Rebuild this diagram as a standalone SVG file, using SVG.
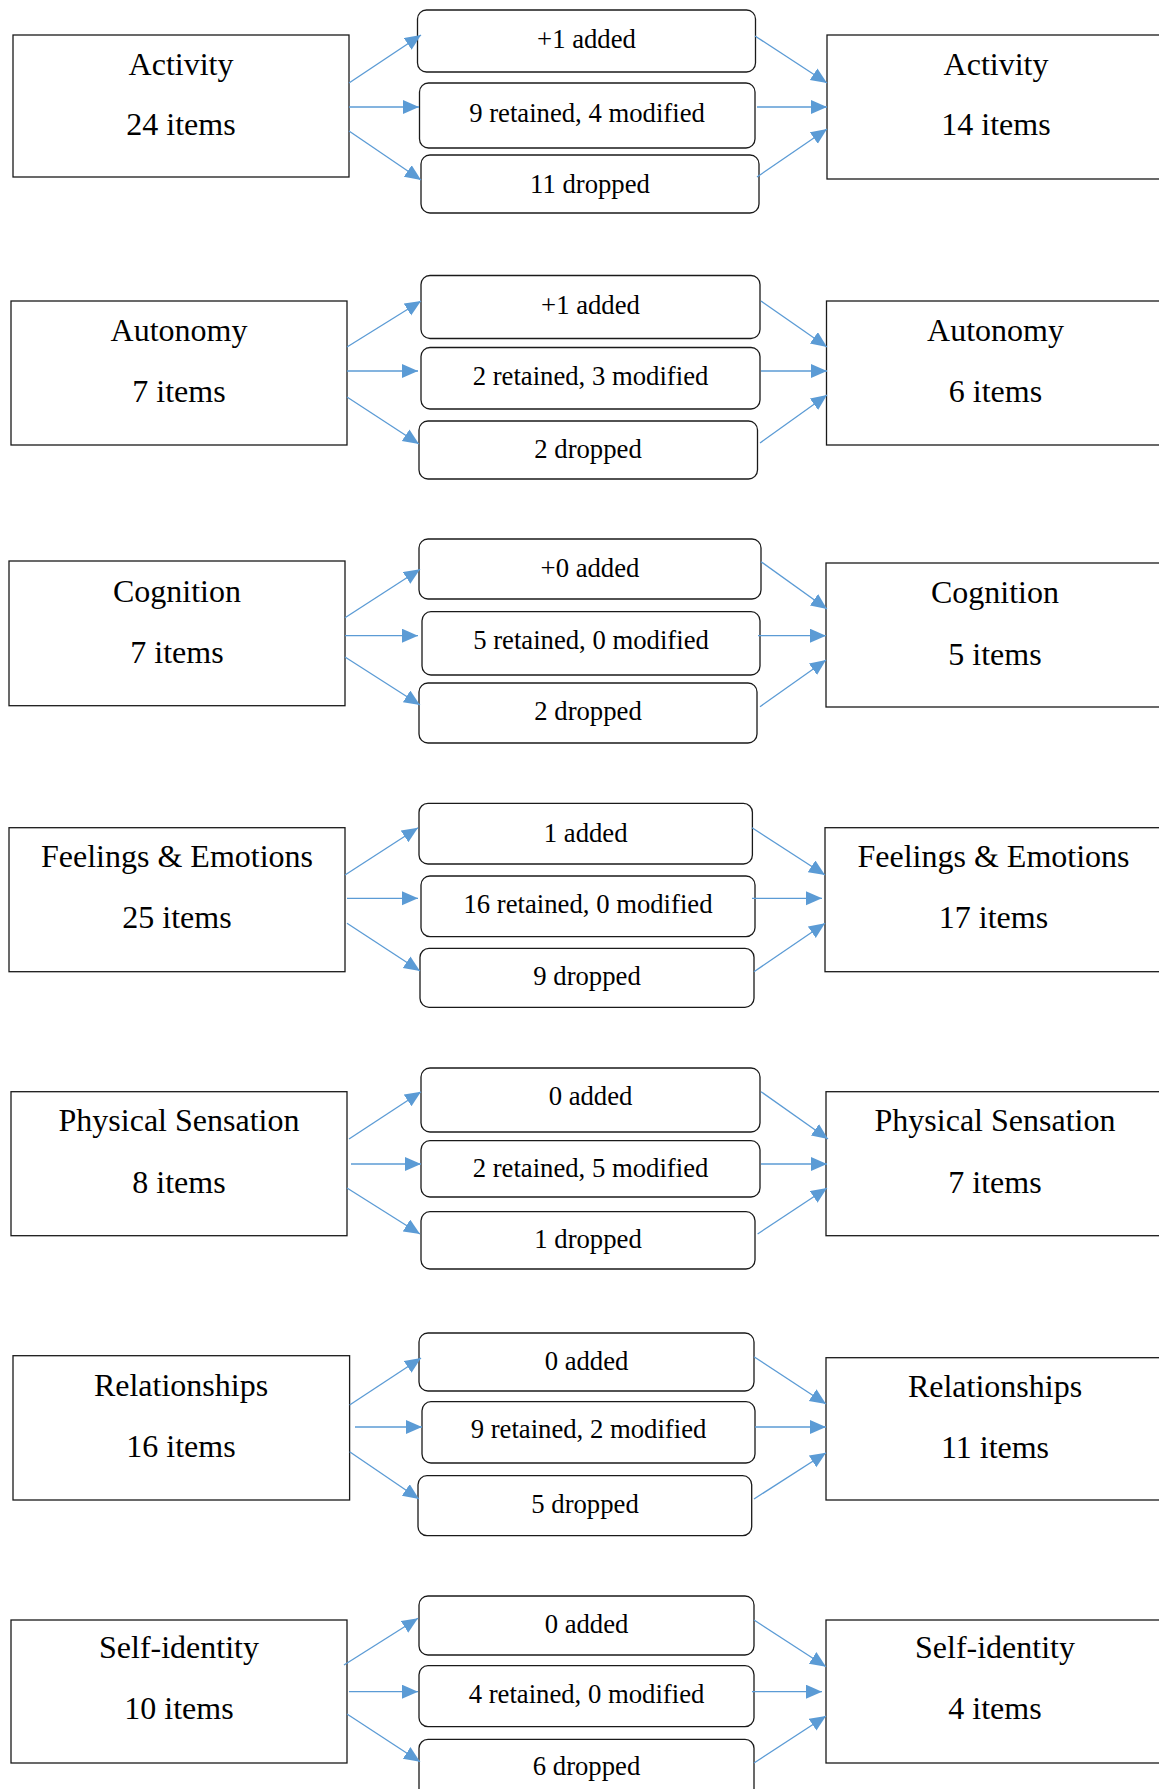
<svg xmlns="http://www.w3.org/2000/svg" width="1159" height="1789" viewBox="0 0 1159 1789">
<style>
  .box { fill: #ffffff; stroke: #1a1a1a; stroke-width: 1.3; }
  .rbox { fill: #ffffff; stroke: #1a1a1a; stroke-width: 1.3; }
  .big { font-family: "Liberation Serif", "Times New Roman", serif; font-size: 32px; fill: #000; text-anchor: middle; }
  .mid { font-family: "Liberation Serif", "Times New Roman", serif; font-size: 26.7px; fill: #000; text-anchor: middle; }
  .arr { stroke: #5b9bd5; stroke-width: 1.3; fill: none; marker-end: url(#ah); }
</style>
<defs>
  <marker id="ah" markerUnits="userSpaceOnUse" markerWidth="17" markerHeight="15" refX="16" refY="7" orient="auto">
    <path d="M0,0 L16,7 L0,14 z" fill="#5b9bd5"/>
  </marker>
</defs>
<rect width="1159" height="1789" fill="#ffffff"/>

<!-- Row 1 -->
<g id="activity-before"><rect class="box" x="13" y="35" width="336" height="142"/><text class="big" x="181" y="75">Activity</text><text class="big" x="181" y="135">24 items</text></g>
<g id="activity-added"><rect class="rbox" x="417.5" y="10" width="338" height="62" rx="9"/><text class="mid" x="586.5" y="48">+1 added</text></g>
<g id="activity-retained"><rect class="rbox" x="419.5" y="83" width="335.5" height="65" rx="9"/><text class="mid" x="587" y="122">9 retained, 4 modified</text></g>
<g id="activity-dropped"><rect class="rbox" x="421" y="155" width="338" height="58" rx="9"/><text class="mid" x="590" y="193">11 dropped</text></g>
<g id="activity-after"><rect class="box" x="827" y="35" width="340" height="144"/><text class="big" x="996" y="75">Activity</text><text class="big" x="996" y="135">14 items</text></g>

<!-- Row 2 -->
<g id="autonomy-before"><rect class="box" x="11" y="301" width="336" height="144"/><text class="big" x="179" y="341">Autonomy</text><text class="big" x="179" y="401.5">7 items</text></g>
<g id="autonomy-added"><rect class="rbox" x="421" y="275.5" width="339" height="63" rx="9"/><text class="mid" x="590.5" y="313.5">+1 added</text></g>
<g id="autonomy-retained"><rect class="rbox" x="421" y="347.5" width="339" height="61.5" rx="9"/><text class="mid" x="590.5" y="385">2 retained, 3 modified</text></g>
<g id="autonomy-dropped"><rect class="rbox" x="419" y="421" width="338.5" height="58" rx="9"/><text class="mid" x="588" y="458">2 dropped</text></g>
<g id="autonomy-after"><rect class="box" x="826.5" y="301" width="340" height="144"/><text class="big" x="995.5" y="341">Autonomy</text><text class="big" x="995.5" y="401.5">6 items</text></g>

<!-- Row 3 -->
<g id="cognition-before"><rect class="box" x="9" y="561" width="336" height="144.7"/><text class="big" x="177" y="601.7">Cognition</text><text class="big" x="177" y="662.7">7 items</text></g>
<g id="cognition-added"><rect class="rbox" x="419" y="539" width="342" height="60" rx="9"/><text class="mid" x="590" y="577">+0 added</text></g>
<g id="cognition-retained"><rect class="rbox" x="422" y="611.7" width="338" height="63.3" rx="9"/><text class="mid" x="591" y="649">5 retained, 0 modified</text></g>
<g id="cognition-dropped"><rect class="rbox" x="419" y="683" width="338" height="60" rx="9"/><text class="mid" x="588" y="720">2 dropped</text></g>
<g id="cognition-after"><rect class="box" x="826" y="563" width="340" height="144"/><text class="big" x="995" y="603">Cognition</text><text class="big" x="995" y="665">5 items</text></g>

<!-- Row 4 -->
<g id="feelings-before"><rect class="box" x="9" y="827.7" width="336" height="144"/><text class="big" x="177" y="867.3">Feelings &amp; Emotions</text><text class="big" x="177" y="928.3">25 items</text></g>
<g id="feelings-added"><rect class="rbox" x="419" y="803.3" width="333.4" height="60.7" rx="9"/><text class="mid" x="585.7" y="841.7">1 added</text></g>
<g id="feelings-retained"><rect class="rbox" x="421" y="876" width="334" height="60.7" rx="9"/><text class="mid" x="588" y="913.3">16 retained, 0 modified</text></g>
<g id="feelings-dropped"><rect class="rbox" x="420" y="948.3" width="334" height="59" rx="9"/><text class="mid" x="587" y="985">9 dropped</text></g>
<g id="feelings-after"><rect class="box" x="825" y="827.7" width="340" height="144"/><text class="big" x="993.5" y="867.3">Feelings &amp; Emotions</text><text class="big" x="993.5" y="928.3">17 items</text></g>

<!-- Row 5 -->
<g id="physical-before"><rect class="box" x="11" y="1091.7" width="336" height="144"/><text class="big" x="179" y="1130.7">Physical Sensation</text><text class="big" x="179" y="1192.7">8 items</text></g>
<g id="physical-added"><rect class="rbox" x="421" y="1068" width="339" height="64" rx="9"/><text class="mid" x="590.5" y="1105">0 added</text></g>
<g id="physical-retained"><rect class="rbox" x="421" y="1140.7" width="339" height="56.3" rx="9"/><text class="mid" x="590.5" y="1176.7">2 retained, 5 modified</text></g>
<g id="physical-dropped"><rect class="rbox" x="421" y="1211.7" width="334" height="57.3" rx="9"/><text class="mid" x="588" y="1248.3">1 dropped</text></g>
<g id="physical-after"><rect class="box" x="826" y="1091.7" width="340" height="144"/><text class="big" x="995" y="1130.7">Physical Sensation</text><text class="big" x="995" y="1192.7">7 items</text></g>

<!-- Row 6 -->
<g id="relationships-before"><rect class="box" x="13" y="1355.7" width="336.6" height="144.3"/><text class="big" x="181" y="1396">Relationships</text><text class="big" x="181" y="1456.7">16 items</text></g>
<g id="relationships-added"><rect class="rbox" x="419" y="1333" width="335" height="58" rx="9"/><text class="mid" x="586.5" y="1370">0 added</text></g>
<g id="relationships-retained"><rect class="rbox" x="422" y="1401.7" width="333" height="61.3" rx="9"/><text class="mid" x="588.5" y="1438">9 retained, 2 modified</text></g>
<g id="relationships-dropped"><rect class="rbox" x="418" y="1475.7" width="333.7" height="60" rx="9"/><text class="mid" x="585" y="1512.7">5 dropped</text></g>
<g id="relationships-after"><rect class="box" x="826" y="1357.7" width="340" height="142.3"/><text class="big" x="995" y="1397">Relationships</text><text class="big" x="995" y="1457.7">11 items</text></g>

<!-- Row 7 -->
<g id="selfidentity-before"><rect class="box" x="11" y="1620" width="336" height="143"/><text class="big" x="179" y="1658">Self-identity</text><text class="big" x="179" y="1719">10 items</text></g>
<g id="selfidentity-added"><rect class="rbox" x="419" y="1596" width="335" height="59" rx="9"/><text class="mid" x="586.5" y="1632.7">0 added</text></g>
<g id="selfidentity-retained"><rect class="rbox" x="419" y="1665.7" width="335" height="61" rx="9"/><text class="mid" x="586.5" y="1702.7">4 retained, 0 modified</text></g>
<g id="selfidentity-dropped"><rect class="rbox" x="419" y="1739.3" width="335" height="80" rx="9"/><text class="mid" x="586.5" y="1775">6 dropped</text></g>
<g id="selfidentity-after"><rect class="box" x="826" y="1620" width="340" height="143"/><text class="big" x="995" y="1658">Self-identity</text><text class="big" x="995" y="1719">4 items</text></g>

<g id="connectors">
  <!-- Row 1 -->
  <line class="arr" x1="349" y1="83" x2="421" y2="35"/>
  <line class="arr" x1="349" y1="107" x2="419" y2="107"/>
  <line class="arr" x1="349" y1="131" x2="421" y2="180"/>
  <line class="arr" x1="755" y1="36" x2="827" y2="83"/>
  <line class="arr" x1="757" y1="107" x2="827" y2="107"/>
  <line class="arr" x1="757" y1="177" x2="827" y2="129"/>
  <!-- Row 2 -->
  <line class="arr" x1="347" y1="347" x2="421" y2="301"/>
  <line class="arr" x1="347" y1="371" x2="418" y2="371"/>
  <line class="arr" x1="347" y1="397" x2="419" y2="444"/>
  <line class="arr" x1="761" y1="301" x2="827" y2="347"/>
  <line class="arr" x1="761" y1="371" x2="827" y2="371"/>
  <line class="arr" x1="760" y1="443" x2="827" y2="395"/>
  <!-- Row 3 -->
  <line class="arr" x1="345" y1="617.7" x2="420" y2="569.3"/>
  <line class="arr" x1="345" y1="635.7" x2="418" y2="635.7"/>
  <line class="arr" x1="345" y1="657" x2="420" y2="705"/>
  <line class="arr" x1="761" y1="561.7" x2="827" y2="609"/>
  <line class="arr" x1="758" y1="635.7" x2="826" y2="635.7"/>
  <line class="arr" x1="760" y1="706.7" x2="826" y2="660"/>
  <!-- Row 4 -->
  <line class="arr" x1="345" y1="875" x2="418" y2="827.7"/>
  <line class="arr" x1="347" y1="898.3" x2="418" y2="898.3"/>
  <line class="arr" x1="347" y1="923.3" x2="420" y2="971"/>
  <line class="arr" x1="752" y1="827.7" x2="825" y2="875"/>
  <line class="arr" x1="752" y1="898.3" x2="822" y2="898.3"/>
  <line class="arr" x1="754" y1="971.7" x2="825" y2="923.3"/>
  <!-- Row 5 -->
  <line class="arr" x1="349" y1="1139" x2="421" y2="1091.7"/>
  <line class="arr" x1="351" y1="1164" x2="421" y2="1164"/>
  <line class="arr" x1="347" y1="1188" x2="420" y2="1234"/>
  <line class="arr" x1="761" y1="1091.7" x2="828" y2="1139"/>
  <line class="arr" x1="761" y1="1164" x2="827" y2="1164"/>
  <line class="arr" x1="757.6" y1="1234" x2="827" y2="1188"/>
  <!-- Row 6 -->
  <line class="arr" x1="349.6" y1="1405" x2="421" y2="1358"/>
  <line class="arr" x1="355" y1="1427" x2="422" y2="1427"/>
  <line class="arr" x1="349.6" y1="1451.7" x2="419" y2="1499"/>
  <line class="arr" x1="754" y1="1356.7" x2="826" y2="1404"/>
  <line class="arr" x1="755" y1="1427" x2="826" y2="1427"/>
  <line class="arr" x1="754" y1="1499" x2="826" y2="1452.7"/>
  <!-- Row 7 -->
  <line class="arr" x1="344" y1="1665" x2="418" y2="1618.3"/>
  <line class="arr" x1="349" y1="1691.7" x2="418" y2="1691.7"/>
  <line class="arr" x1="347" y1="1714" x2="420" y2="1761.7"/>
  <line class="arr" x1="754" y1="1620" x2="826" y2="1666.7"/>
  <line class="arr" x1="752" y1="1691.7" x2="822" y2="1691.7"/>
  <line class="arr" x1="754" y1="1763" x2="826" y2="1716"/>
</g>
</svg>
